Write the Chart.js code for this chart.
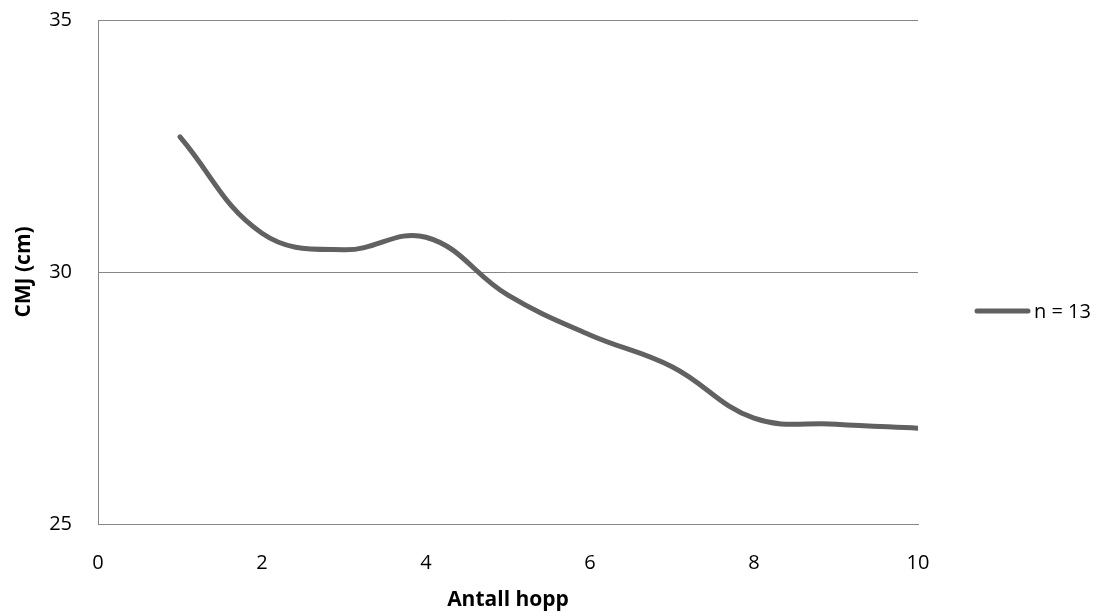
<!DOCTYPE html>
<html>
<head>
<meta charset="utf-8">
<script src="https://cdn.jsdelivr.net/npm/chart.js@4/dist/chart.umd.min.js"></script>
<style>
    html, body { margin: 0; padding: 0; background: #ffffff; }
    #wrap { width: 1106px; height: 616px; position: relative; }
</style>
</head>
<body>
<div id="wrap"><canvas id="chart" width="1106" height="616"></canvas></div>
<script>
const jumps = [1, 2, 3, 4, 5, 6, 7, 8, 9, 10];
const cmj = [32.68, 30.77, 30.44, 30.69, 29.54, 28.75, 28.12, 27.10, 26.98, 26.90];
const seriesName = 'n = 13';
const xTicks = [0, 2, 4, 6, 8, 10];
const yTicks = [25, 30, 35];

const lineColor = '#616161';
const axisColor = '#868686';
const fontFamily = "'Open Sans', 'Noto Sans', sans-serif";

// legend drawn by hand so the plot area keeps its place
const sideLegend = {
    id: 'sideLegend',
    afterDraw(chart) {
        const ctx = chart.ctx;
        const ds = chart.data.datasets[0];
        ctx.save();
        ctx.strokeStyle = ds.borderColor;
        ctx.lineWidth = ds.borderWidth;
        ctx.lineCap = 'round';
        ctx.beginPath();
        ctx.moveTo(977, 311);
        ctx.lineTo(1028, 311);
        ctx.stroke();
        ctx.fillStyle = '#000000';
        ctx.font = '20px ' + fontFamily;
        ctx.textBaseline = 'middle';
        ctx.fillText(ds.label, 1034, 312);
        ctx.restore();
    }
};

document.addEventListener("DOMContentLoaded", () => {
    const el = document.getElementById('chart');

    new Chart(el, {
        type: 'line',
        data: {
            datasets: [{
                label: seriesName,
                data: jumps.map((x, i) => ({ x: x, y: cmj[i] })),
                borderColor: lineColor,
                borderWidth: 5,
                borderCapStyle: 'round',
                pointRadius: 0,
                tension: 0.4,
                fill: false
            }]
        },
        options: {
            responsive: false,
            animation: false,
            maintainAspectRatio: false,
            layout: { padding: { top: 20, right: 188, bottom: 0, left: 0 } },
            plugins: {
                legend: { display: false },
                tooltip: { enabled: false }
            },
            scales: {
                x: {
                    type: 'linear',
                    min: 0,
                    max: 10,
                    afterBuildTicks: (axis) => { axis.ticks = xTicks.map(v => ({ value: v })); },
                    afterFit: (axis) => { axis.height = 92; axis.paddingLeft = 0; axis.paddingRight = 0; },
                    grid: { display: false, drawTicks: false },
                    border: { display: true, color: axisColor, width: 1 },
                    ticks: { color: '#000000', padding: 27, maxRotation: 0, font: { family: fontFamily, size: 20 } },
                    title: {
                        display: true,
                        text: 'Antall hopp',
                        color: '#000000',
                        padding: { top: 0, bottom: 3 },
                        font: { family: fontFamily, size: 21, weight: 'bold' }
                    }
                },
                y: {
                    min: 25,
                    max: 35,
                    afterBuildTicks: (axis) => { axis.ticks = yTicks.map(v => ({ value: v })); },
                    afterFit: (axis) => { axis.width = 98; axis.paddingTop = 0; axis.paddingBottom = 0; },
                    grid: { color: axisColor, lineWidth: 1, drawTicks: false },
                    border: { display: true, color: axisColor, width: 1 },
                    ticks: { color: '#000000', padding: 26, font: { family: fontFamily, size: 20 } },
                    title: {
                        display: true,
                        text: 'CMJ (cm)',
                        color: '#000000',
                        padding: { top: 11, bottom: 0 },
                        font: { family: fontFamily, size: 21, weight: 'bold' }
                    }
                }
            }
        },
        plugins: [sideLegend]
    });
});
</script>
</body>
</html>
